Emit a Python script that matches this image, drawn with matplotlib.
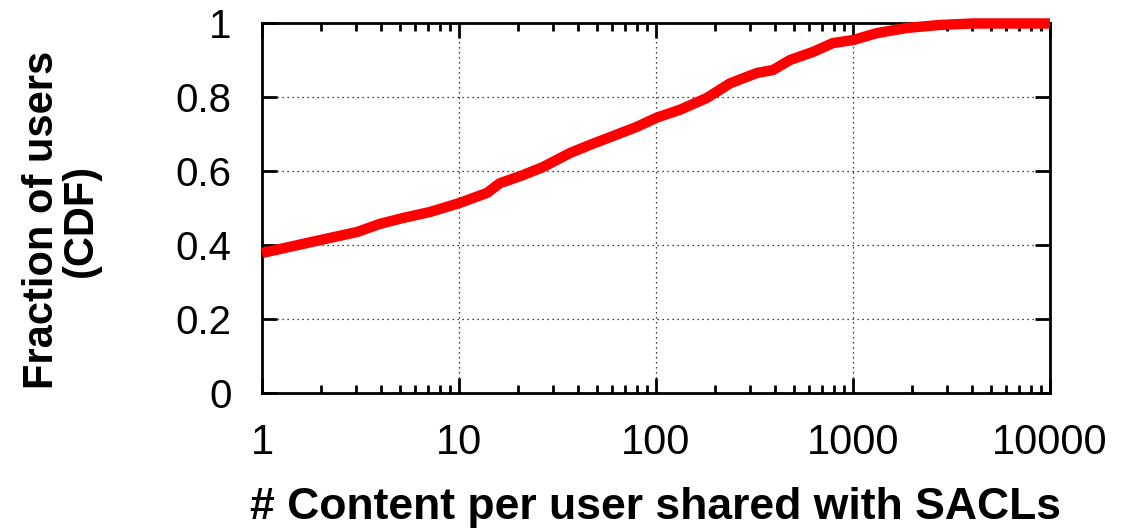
import matplotlib
matplotlib.use("Agg")
import matplotlib.pyplot as plt
from matplotlib.ticker import FixedLocator, FixedFormatter, LogLocator, NullFormatter

content_per_user = [1, 1.97, 3.04, 3.97, 5.2, 7.1, 10, 13.9, 16.1, 21.1, 26.7, 36.6, 46.2,
                    60.5, 80, 101, 132, 181, 238, 326, 393, 479, 627, 791, 1000, 1324,
                    1880, 2754, 4060, 10000]
cdf_fraction = [0.378, 0.413, 0.435, 0.457, 0.473, 0.489, 0.513, 0.541, 0.567, 0.589, 0.611,
                0.649, 0.671, 0.695, 0.720, 0.745, 0.766, 0.798, 0.838, 0.866, 0.874, 0.901,
                0.923, 0.947, 0.955, 0.974, 0.988, 0.996, 1.0, 1.0]

x_ticks = [1, 10, 100, 1000, 10000]
x_tick_labels = ["1", "10", "100", "1000", "10000"]
y_ticks = [0, 0.2, 0.4, 0.6, 0.8, 1]
y_tick_labels = ["0", "0.2", "0.4", "0.6", "0.8", "1"]

plt.rcParams['font.family'] = ['Liberation Sans', 'DejaVu Sans']

fig = plt.figure(figsize=(11.22, 5.29), dpi=100)
ax = fig.add_axes([0.2335, 0.258, 0.7023, 0.6976])

ax.plot(content_per_user, cdf_fraction, color='#ff0000', lw=7.5,
        solid_capstyle='butt', solid_joinstyle='round', clip_on=False, zorder=3)

ax.set_xscale('log')
ax.set_xlim(1, 10000)
ax.set_ylim(0, 1)

ax.xaxis.set_major_locator(FixedLocator(x_ticks))
ax.xaxis.set_major_formatter(FixedFormatter(x_tick_labels))
ax.xaxis.set_minor_locator(LogLocator(base=10, subs=range(2, 10)))
ax.xaxis.set_minor_formatter(NullFormatter())
ax.yaxis.set_major_locator(FixedLocator(y_ticks))
ax.yaxis.set_major_formatter(FixedFormatter(y_tick_labels))

ax.grid(True, which='major', color='#000000', linestyle=(0, (1.0, 3.0)), linewidth=0.9)

for s in ax.spines.values():
    s.set_linewidth(2.0)

ax.tick_params(which='major', direction='in', length=11, width=2.0,
               top=True, right=True)
ax.tick_params(which='minor', direction='in', length=5.5, width=2.0,
               top=True, right=True)
ax.tick_params(axis='x', which='major', labelsize=30, pad=22)
ax.tick_params(axis='y', which='major', labelsize=29, pad=22)

ax.set_xlabel('# Content per user shared with SACLs', fontsize=32, fontweight='bold',
              labelpad=17)
ax.set_ylabel('Fraction of users\n(CDF)', fontsize=30, fontweight='bold',
              linespacing=0.98)
ax.yaxis.set_label_coords(-0.204, 0.4675)

fig.savefig('out.png', dpi=100)
